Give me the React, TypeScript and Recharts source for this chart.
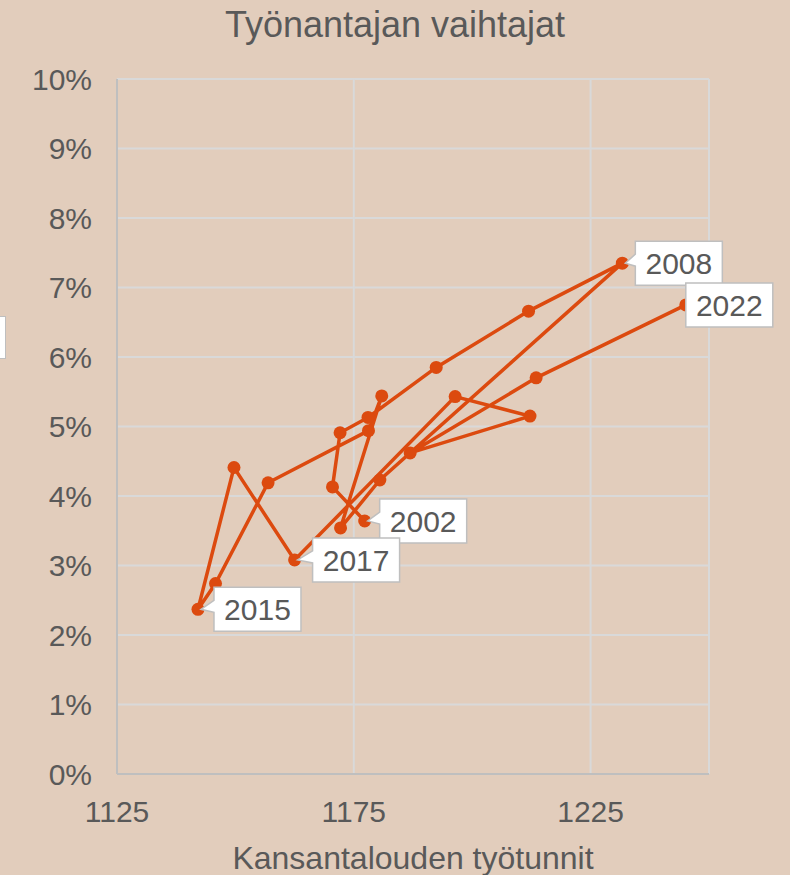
import React from 'react';
import { ScatterChart, Scatter, XAxis, YAxis, CartesianGrid } from 'recharts';

const years = [2002, 2003, 2004, 2005, 2006, 2007, 2008, 2009, 2010, 2011, 2012, 2013, 2014, 2015, 2016, 2017, 2018, 2019, 2020, 2021, 2022];
const hours = [1177.3, 1170.5, 1172.1, 1178.0, 1192.4, 1211.9, 1231.7, 1180.5, 1172.2, 1180.9, 1178.1, 1156.9, 1145.8, 1142.1, 1149.7, 1162.5, 1196.4, 1212.2, 1186.9, 1213.5, 1245.1];
const changers = [3.64, 4.13, 4.91, 5.13, 5.85, 6.66, 7.35, 4.23, 3.54, 5.44, 4.94, 4.19, 2.74, 2.37, 4.41, 3.08, 5.43, 5.15, 4.62, 5.7, 6.75];
const labelledYears = [2002, 2008, 2015, 2017, 2022];
const xTicks = [1125, 1175, 1225];
const yTicks = [0, 1, 2, 3, 4, 5, 6, 7, 8, 9, 10];

const LINE = '#DC4A0F';
const TEXT = '#595959';
const FONT = '"Liberation Sans", Arial, sans-serif';

// gap between point and label box (px)
const labelGap: Record<number, number> = { 2002: 15, 2008: 13, 2015: 16, 2017: 18, 2022: 0 };

const points = years.map((year, i) => ({ year, x: hours[i], y: changers[i] }));
const labelPoints = points.filter((p) => labelledYears.includes(p.year));

const Dot = (props: any) => <circle cx={props.cx} cy={props.cy} r={6.5} fill={LINE} />;

const Callout = (props: any) => {
  const { cx, cy, payload } = props;
  const gap = labelGap[payload.year] ?? 15;
  const w = 87;
  const h = 44;
  const left = cx + gap;
  const top = cy - h / 2;
  const d =
    gap > 0
      ? `M${left},${top} H${left + w} V${top + h} H${left} V${cy + 3} L${cx + 3},${cy} L${left},${cy - 9} Z`
      : `M${left},${top} H${left + w} V${top + h} H${left} Z`;
  return (
    <g>
      <path d={d} fill="#fff" stroke="#bfbfbf" strokeWidth={1.5} />
      <text
        x={left + w / 2}
        y={cy + 11}
        textAnchor="middle"
        fontSize={30}
        fontFamily={FONT}
        fill={TEXT}
      >
        {payload.year}
      </text>
    </g>
  );
};

export default function App() {
  return (
    <div style={{ position: 'absolute', left: 0, top: 0, width: 790, height: 875, background: '#E2CDBC', overflow: 'hidden' }}>
      <div
        style={{
          position: 'absolute',
          left: 0,
          top: 4,
          width: 790,
          textAlign: 'center',
          fontFamily: FONT,
          fontSize: 36,
          color: TEXT,
        }}
      >
        Työnantajan vaihtajat
      </div>
      <div
        style={{
          position: 'absolute',
          left: -4,
          top: 316,
          width: 8,
          height: 41,
          background: '#fff',
          border: '1.5px solid #bfbfbf',
        }}
      />
      <ScatterChart width={790} height={875} margin={{ top: 79, right: 81, left: 0, bottom: 0 }}>
        <CartesianGrid stroke="#d9d9d9" strokeWidth={2} />
        <XAxis
          type="number"
          dataKey="x"
          domain={[1125, 1250]}
          ticks={xTicks}
          height={101}
          axisLine={{ stroke: '#bfbfbf', strokeWidth: 2 }}
          tickLine={false}
          tickSize={0}
          tickMargin={27}
          tick={{ fontSize: 30, fill: TEXT, fontFamily: FONT }}
          label={{
            value: 'Kansantalouden työtunnit',
            position: 'insideBottom',
            offset: 6,
            fontSize: 32,
            fill: TEXT,
            fontFamily: FONT,
          }}
        />
        <YAxis
          type="number"
          dataKey="y"
          domain={[0, 10]}
          ticks={yTicks}
          width={117}
          axisLine={{ stroke: '#bfbfbf', strokeWidth: 2 }}
          tickLine={false}
          tickSize={0}
          tickMargin={25}
          tickFormatter={(v) => `${v}%`}
          tick={{ fontSize: 30, fill: TEXT, fontFamily: FONT }}
        />
        <Scatter
          data={points}
          line={{ stroke: LINE, strokeWidth: 3.5 }}
          lineType="joint"
          shape={Dot}
          isAnimationActive={false}
        />
        <Scatter data={labelPoints} shape={Callout} isAnimationActive={false} />
      </ScatterChart>
    </div>
  );
}
